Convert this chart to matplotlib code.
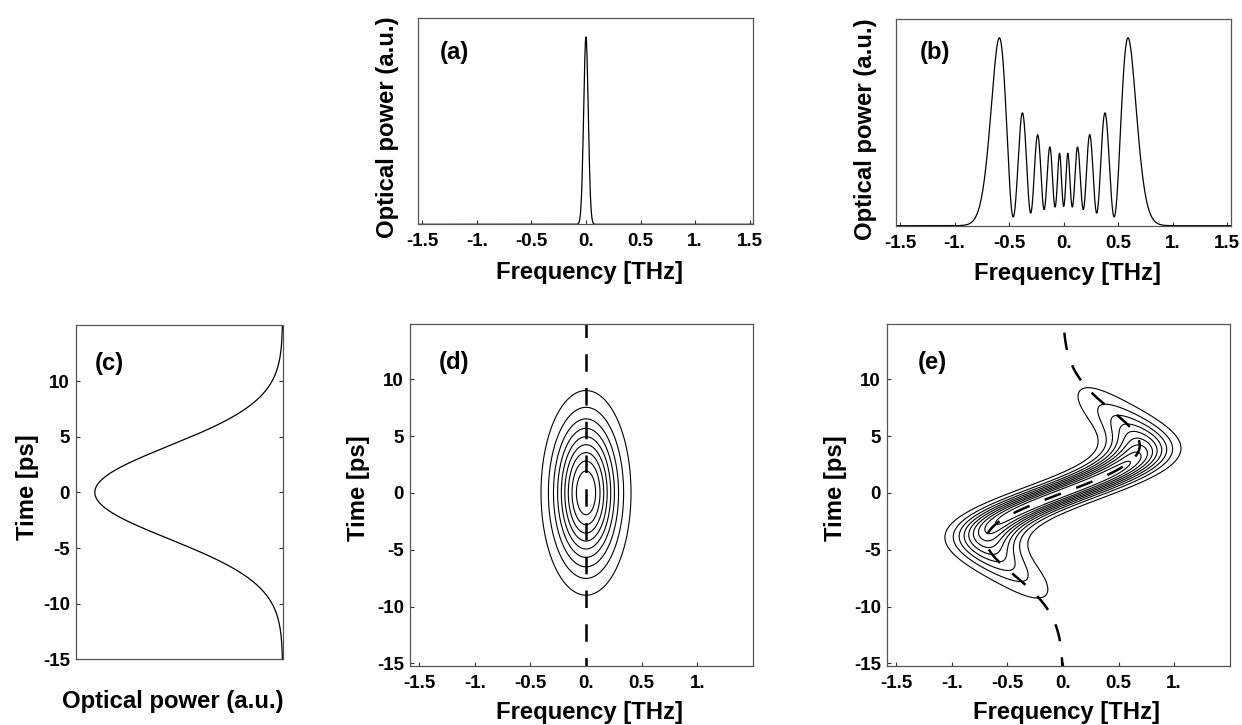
import numpy as np
import matplotlib as mpl
mpl.use("Agg")
import matplotlib.pyplot as plt

plt.rcParams['font.family'] = ['Liberation Sans', 'DejaVu Sans']
plt.rcParams['font.weight'] = 'bold'

# Gaussian pulse + self-phase modulation, parameters
T0 = 5.9                 # ps, intensity ~ exp(-t^2/T0^2)
phi_max = 9.5 * np.pi    # peak nonlinear phase -> 10 peaks in (b)
gate = 0.6               # ps, spectrogram gate
res = 0.009              # THz, spectral resolution (fringes in (b) don't reach 0)
levels = [0.1, 0.2, 0.3, 0.4, 0.5, 0.6, 0.7, 0.8, 0.9]

freq_ticks = [-1.5, -1.0, -0.5, 0.0, 0.5, 1.0, 1.5]
freq_labels = ["-1.5", "-1.", "-0.5", "0.", "0.5", "1.", "1.5"]
time_ticks = [-15, -10, -5, 0, 5, 10]
time_labels = ["-15", "-10", "-5", "0", "5", "10"]
tags = ["(a)", "(b)", "(c)", "(d)", "(e)"]

t = np.arange(-25, 25, 0.04)
fgrid = np.linspace(-1.6, 1.6, 1281)
tc = np.linspace(-15.2, 14.9, 241)
fc = np.linspace(-1.6, 1.5, 249)


def field(phi):
    return np.exp(-t**2 / (2 * T0**2)) * np.exp(-1j * phi * np.exp(-t**2 / T0**2))


def spectrum(E, f):
    S = np.abs(np.exp(-2j * np.pi * np.outer(f, t)) @ E)**2
    df = f[1] - f[0]
    k = np.arange(-int(4 * res / df), int(4 * res / df) + 1) * df
    S = np.convolve(S, np.exp(-k**2 / (2 * res**2)), mode='same')
    return S / S.max()


def spectrogram(E):
    G = np.exp(-(tc[:, None] - t[None, :])**2 / (2 * gate**2))
    S = np.abs((G * E[None, :]) @ np.exp(-2j * np.pi * np.outer(t, fc)))**2
    return S / S.max()


def inst_freq(phi, tt):
    return phi * tt / (np.pi * T0**2) * np.exp(-tt**2 / T0**2)


E0 = field(0.0)
E1 = field(phi_max)

fig = plt.figure(figsize=(12.42, 7.25), dpi=100)
spine_col = '#555555'
LBL = 17.2
TCK = 13.5


def style(ax, xt=None, yt=None, right=False):
    for s in ax.spines.values():
        s.set_color(spine_col)
        s.set_linewidth(0.9)
    ax.tick_params(direction='in', length=3, width=0.8, color='#333333',
                   labelsize=TCK, pad=6.5)
    if xt is None:
        ax.set_xticks([])
    else:
        ax.set_xticks(xt[0])
        ax.set_xticklabels(xt[1])
    if yt is None:
        ax.set_yticks([])
    else:
        ax.set_yticks(yt[0])
        ax.set_yticklabels(yt[1])
        ax.tick_params(axis='y', pad=4.5, right=right)
    for lab in ax.get_xticklabels() + ax.get_yticklabels():
        lab.set_fontweight('bold')


def labels(ax, xl, xpos, yl, ypos, tag, tagpos):
    ax.set_xlabel(xl, fontsize=LBL, fontweight='bold')
    ax.xaxis.label.set_va('center')
    ax.xaxis.set_label_coords(*xpos)
    ax.set_ylabel(yl, fontsize=LBL, fontweight='bold')
    ax.yaxis.label.set_va('center')
    ax.yaxis.set_label_coords(*ypos)
    ax.text(tagpos[0], tagpos[1], tag, transform=ax.transAxes, fontsize=LBL,
            fontweight='bold', va='center', ha='left')


# (a) input spectrum
ax = fig.add_axes([0.3368, 0.6906, 0.2697, 0.2842])
ax.plot(fgrid, spectrum(E0, fgrid), color='k', lw=0.9)
ax.set_xlim(-1.535, 1.532)
ax.set_ylim(0, 1.1)
style(ax, (freq_ticks, freq_labels))
labels(ax, "Frequency [THz]", (0.51, -0.232), "Optical power (a.u.)", (-0.092, 0.47),
       tags[0], (0.065, 0.836))

# (b) SPM-broadened spectrum
ax = fig.add_axes([0.7217, 0.6887, 0.2692, 0.2851])
ax.plot(fgrid, spectrum(E1, fgrid), color='k', lw=0.9)
ax.set_xlim(-1.535, 1.532)
ax.set_ylim(0, 1.1)
style(ax, (freq_ticks, freq_labels))
labels(ax, "Frequency [THz]", (0.512, -0.229), "Optical power (a.u.)", (-0.093, 0.468),
       tags[1], (0.071, 0.838))

# (c) temporal intensity
ax = fig.add_axes([0.0612, 0.0906, 0.1664, 0.4611])
tt = np.linspace(-15, 15.1, 600)
ax.plot(np.exp(-tt**2 / T0**2), tt, color='k', lw=0.9)
ax.set_xlim(1.1, 0)
ax.set_ylim(-15, 15.04)
style(ax, None, (time_ticks, time_labels), right=True)
labels(ax, "Optical power (a.u.)", (0.469, -0.127), "Time [ps]", (-0.235, 0.514),
       tags[2], (0.092, 0.886))

# (d), (e) spectrograms with instantaneous frequency
for k, (E, phi, left) in enumerate([(E0, 0.0, 0.3304), (E1, phi_max, 0.7144)]):
    ax = fig.add_axes([left, 0.0818, 0.2757, 0.4713])
    ax.contour(fc, tc, spectrogram(E), levels=levels, colors='k', linewidths=0.8)
    td = np.linspace(-16, 16, 800)
    ax.plot(inst_freq(phi, td), td, color='k', lw=1.8, dashes=(7, 6.5))
    ax.set_xlim(-1.58, 1.5)
    ax.set_ylim(-15.2, 14.85)
    style(ax, (freq_ticks[:-1], freq_labels[:-1]), (time_ticks, time_labels))
    labels(ax, "Frequency [THz]", (0.522, -0.138), "Time [ps]", (-0.152, 0.521),
           tags[3 + k], (0.082 if k == 0 else 0.09, 0.886))

fig.savefig("out.png", dpi=100)
